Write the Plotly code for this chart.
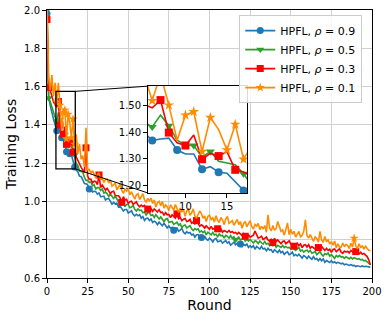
import plotly.graph_objects as go

# training loss per round
rounds = list(range(200))

loss_rho09 = [
    1.98, 1.55, 1.50, 1.46, 1.43, 1.40, 1.369, 1.375, 1.378, 1.333,
    1.318, 1.318, 1.260, 1.270, 1.249, 1.245, 1.214, 1.180, 1.165, 1.154,
    1.132, 1.130, 1.113, 1.093, 1.092, 1.087, 1.065, 1.066, 1.049, 1.053,
    1.051, 1.038, 1.044, 1.025, 1.026, 1.028, 1.008, 1.014, 1.015, 0.997,
    0.986, 0.995, 0.987, 0.991, 0.971, 0.976, 0.964, 0.950, 0.958, 0.958,
    0.939, 0.946, 0.951, 0.933, 0.925, 0.933, 0.925, 0.931, 0.913, 0.921,
    0.901, 0.911, 0.913, 0.900, 0.909, 0.890, 0.897, 0.891, 0.878, 0.892,
    0.884, 0.873, 0.886, 0.871, 0.862, 0.872, 0.860, 0.865, 0.850, 0.859,
    0.861, 0.844, 0.849, 0.858, 0.839, 0.831, 0.842, 0.835, 0.838, 0.825,
    0.829, 0.813, 0.826, 0.827, 0.814, 0.812, 0.803, 0.819, 0.804, 0.797,
    0.808, 0.801, 0.788, 0.802, 0.807, 0.789, 0.792, 0.795, 0.782, 0.790,
    0.796, 0.782, 0.789, 0.771, 0.782, 0.787, 0.773, 0.780, 0.787, 0.778,
    0.764, 0.776, 0.770, 0.777, 0.760, 0.768, 0.760, 0.769, 0.750, 0.765,
    0.759, 0.751, 0.765, 0.751, 0.755, 0.742, 0.755, 0.746, 0.748, 0.733,
    0.748, 0.742, 0.733, 0.746, 0.732, 0.739, 0.723, 0.732, 0.737, 0.722,
    0.726, 0.735, 0.716, 0.723, 0.715, 0.724, 0.714, 0.704, 0.717, 0.712,
    0.701, 0.715, 0.705, 0.698, 0.712, 0.698, 0.702, 0.690, 0.701, 0.690,
    0.700, 0.682, 0.691, 0.687, 0.681, 0.690, 0.680, 0.685, 0.677, 0.682,
    0.676, 0.674, 0.677, 0.669, 0.673, 0.671, 0.666, 0.670, 0.665, 0.666,
    0.660, 0.664, 0.662, 0.659, 0.663, 0.659, 0.661, 0.659, 0.660, 0.657,
]

loss_rho05 = [
    2.00, 1.54, 1.52, 1.49, 1.47, 1.44, 1.42, 1.465, 1.425, 1.37,
    1.352, 1.35, 1.306, 1.327, 1.29, 1.283, 1.277, 1.243, 1.198, 1.188,
    1.159, 1.157, 1.154, 1.127, 1.110, 1.110, 1.099, 1.102, 1.082, 1.087,
    1.064, 1.072, 1.072, 1.057, 1.065, 1.044, 1.049, 1.041, 1.026, 1.038,
    1.028, 1.016, 1.027, 1.010, 0.999, 1.007, 0.993, 0.995, 0.973, 0.984,
    0.984, 0.967, 0.970, 0.979, 0.959, 0.950, 0.961, 0.953, 0.955, 0.941,
    0.945, 0.929, 0.941, 0.942, 0.927, 0.930, 0.916, 0.931, 0.916, 0.908,
    0.919, 0.909, 0.895, 0.907, 0.911, 0.891, 0.892, 0.895, 0.880, 0.888,
    0.892, 0.876, 0.883, 0.863, 0.874, 0.877, 0.861, 0.868, 0.873, 0.857,
    0.848, 0.858, 0.852, 0.857, 0.840, 0.846, 0.837, 0.845, 0.825, 0.839,
    0.832, 0.825, 0.838, 0.825, 0.829, 0.816, 0.830, 0.820, 0.823, 0.808,
    0.823, 0.818, 0.808, 0.822, 0.808, 0.815, 0.800, 0.808, 0.814, 0.799,
    0.803, 0.813, 0.793, 0.801, 0.793, 0.802, 0.792, 0.783, 0.795, 0.791,
    0.780, 0.793, 0.784, 0.777, 0.791, 0.777, 0.781, 0.770, 0.780, 0.769,
    0.780, 0.761, 0.771, 0.767, 0.760, 0.770, 0.759, 0.765, 0.758, 0.760,
    0.752, 0.760, 0.754, 0.744, 0.753, 0.759, 0.741, 0.746, 0.735, 0.743,
    0.745, 0.736, 0.745, 0.729, 0.733, 0.739, 0.722, 0.731, 0.738, 0.723,
    0.715, 0.728, 0.723, 0.730, 0.714, 0.722, 0.714, 0.703, 0.718, 0.710,
    0.718, 0.709, 0.711, 0.703, 0.711, 0.706, 0.701, 0.708, 0.700, 0.706,
    0.704, 0.698, 0.701, 0.695, 0.697, 0.690, 0.692, 0.685, 0.680, 0.670,
]

loss_rho03 = [
    1.95, 1.595, 1.58, 1.55, 1.52, 1.505, 1.493, 1.522, 1.399, 1.36,
    1.35, 1.39, 1.298, 1.32, 1.31, 1.327, 1.258, 1.25, 1.23, 1.212,
    1.195, 1.178, 1.165, 1.150, 1.280, 1.132, 1.115, 1.116, 1.097, 1.106,
    1.104, 1.088, 1.138, 1.073, 1.086, 1.069, 1.059, 1.068, 1.057, 1.041,
    1.051, 1.053, 1.031, 1.030, 1.030, 1.018, 0.995, 1.025, 1.007, 1.011,
    0.989, 0.999, 1.001, 0.985, 0.991, 0.998, 0.981, 0.972, 0.981, 0.974,
    0.979, 0.961, 0.960, 0.958, 0.964, 0.948, 0.961, 0.954, 0.945, 0.957,
    0.942, 0.944, 0.929, 0.941, 0.930, 0.932, 0.916, 0.930, 0.923, 0.913,
    0.935, 0.910, 0.916, 0.899, 0.907, 0.911, 0.895, 0.898, 0.906, 0.886,
    0.892, 0.883, 0.900, 0.880, 0.870, 0.878, 0.872, 0.861, 0.873, 0.863,
    0.855, 0.870, 0.855, 0.860, 0.848, 0.857, 0.847, 0.857, 0.839, 0.848,
    0.845, 0.839, 0.848, 0.838, 0.843, 0.835, 0.838, 0.829, 0.838, 0.831,
    0.822, 0.832, 0.818, 0.820, 0.825, 0.813, 0.821, 0.824, 0.845, 0.824,
    0.808, 0.812, 0.818, 0.801, 0.810, 0.814, 0.799, 0.792, 0.804, 0.785,
    0.807, 0.790, 0.799, 0.790, 0.779, 0.791, 0.794, 0.779, 0.787, 0.794,
    0.778, 0.771, 0.766, 0.775, 0.782, 0.769, 0.778, 0.759, 0.771, 0.774,
    0.762, 0.774, 0.756, 0.764, 0.759, 0.751, 0.766, 0.759, 0.751, 0.765,
    0.751, 0.744, 0.755, 0.744, 0.750, 0.734, 0.749, 0.752, 0.737, 0.743,
    0.753, 0.735, 0.729, 0.741, 0.735, 0.740, 0.731, 0.744, 0.736, 0.730,
    0.738, 0.733, 0.726, 0.735, 0.724, 0.728, 0.718, 0.712, 0.695, 0.668,
]

loss_rho01 = [
    2.05, 1.65, 1.58, 1.66, 1.55, 1.62, 1.52, 1.62, 1.503, 1.37,
    1.465, 1.478, 1.327, 1.456, 1.41, 1.333, 1.43, 1.298, 1.35, 1.25,
    1.30, 1.22, 1.24, 1.18, 1.385, 1.165, 1.167, 1.147, 1.161, 1.145,
    1.123, 1.140, 1.149, 1.112, 1.121, 1.099, 1.114, 1.117, 1.096, 1.113,
    1.080, 1.087, 1.096, 1.061, 1.078, 1.090, 1.059, 1.042, 1.065, 1.054,
    1.067, 1.034, 1.050, 1.033, 1.012, 1.034, 1.041, 1.010, 1.026, 1.041,
    1.008, 0.995, 1.016, 1.003, 1.017, 0.989, 1.008, 0.971, 0.994, 1.001,
    0.978, 1.000, 0.965, 0.982, 0.973, 0.952, 0.983, 0.971, 0.954, 0.984,
    0.957, 0.942, 0.966, 0.945, 0.957, 0.922, 0.951, 0.959, 0.928, 0.940,
    0.961, 0.924, 0.912, 0.937, 0.950, 0.937, 0.912, 0.924, 0.895, 0.923,
    0.928, 0.905, 0.915, 0.892, 0.926, 0.901, 0.890, 0.916, 0.903, 0.879,
    0.908, 0.921, 0.885, 0.892, 0.900, 0.875, 0.894, 0.906, 0.879, 0.895,
    0.860, 0.885, 0.895, 0.868, 0.884, 0.899, 0.869, 0.856, 0.880, 0.871,
    0.885, 0.853, 0.870, 0.856, 0.874, 0.839, 0.930, 0.860, 0.846, 0.874,
    0.849, 0.859, 0.895, 0.862, 0.844, 0.851, 0.823, 0.854, 0.888, 0.826,
    0.855, 0.829, 0.844, 0.814, 0.832, 0.843, 0.815, 0.823, 0.844, 0.904,
    0.822, 0.809, 0.827, 0.809, 0.791, 0.815, 0.807, 0.787, 0.843, 0.798,
    0.786, 0.817, 0.789, 0.799, 0.778, 0.790, 0.771, 0.793, 0.758, 0.779,
    0.760, 0.762, 0.783, 0.763, 0.776, 0.770, 0.754, 0.781, 0.762, 0.808,
    0.768, 0.752, 0.779, 0.758, 0.770, 0.751, 0.766, 0.755, 0.745, 0.742,
]

# rounds that carry a marker (main axes / zoomed inset)
marks_main = {
    "0.9": [0, 6, 9, 12, 14, 17, 26, 78, 95, 119],
    "0.5": [0, 1, 6, 8, 11, 13, 17, 116],
    "0.3": [0, 1, 7, 8, 10, 12, 14, 16, 24, 32, 46, 62, 80, 92, 105, 122, 139, 152, 167, 190],
    "0.1": [0, 6, 8, 10, 11, 12, 13, 15, 16, 17, 189],
}
marks_inset = {
    "0.9": [6, 9, 12, 14, 17],
    "0.5": [6, 8, 11, 13, 17],
    "0.3": [7, 8, 10, 12, 14, 16],
    "0.1": [6, 8, 10, 11, 12, 13, 15, 16, 17],
}

series = [
    ("0.9", loss_rho09, "#1f77b4", "circle"),
    ("0.5", loss_rho05, "#2ca02c", "triangle-down"),
    ("0.3", loss_rho03, "#ff0000", "square"),
    ("0.1", loss_rho01, "#ff8c00", "star"),
]

X_RANGE = [0, 200]
Y_RANGE = [0.6, 2.0]
ZOOM_X = [5.5, 17.4]
ZOOM_Y = [1.17, 1.575]
INSET_DOM_X = [0.311, 0.615]
INSET_DOM_Y = [0.317, 0.716]

FONT = "DejaVu Sans"

fig = go.Figure()

for rho, vals, color, symbol in series:
    fig.add_trace(go.Scatter(
        x=rounds, y=vals, mode="lines+markers",
        name=f"HPFL, <i>ρ</i> = {rho}",
        line=dict(color=color, width=1.6),
        marker=dict(symbol=symbol, size=7, color=color, line=dict(width=0)),
        selectedpoints=marks_main[rho],
        unselected=dict(marker=dict(opacity=0)),
        xaxis="x", yaxis="y",
    ))

for rho, vals, color, symbol in series:
    fig.add_trace(go.Scatter(
        x=rounds, y=vals, mode="lines+markers", showlegend=False,
        line=dict(color=color, width=1.6),
        marker=dict(symbol=symbol, size=8, color=color, line=dict(width=0)),
        selectedpoints=marks_inset[rho],
        unselected=dict(marker=dict(opacity=0)),
        xaxis="x2", yaxis="y2",
    ))


def to_paper(x, y):
    px = (x - X_RANGE[0]) / (X_RANGE[1] - X_RANGE[0])
    py = (y - Y_RANGE[0]) / (Y_RANGE[1] - Y_RANGE[0])
    return px, py


# zoom rectangle and connector lines
shapes = [dict(type="rect", xref="x", yref="y",
               x0=ZOOM_X[0], x1=ZOOM_X[1], y0=ZOOM_Y[0], y1=ZOOM_Y[1],
               line=dict(color="black", width=1.3))]
tr = to_paper(ZOOM_X[1], ZOOM_Y[1])
br = to_paper(ZOOM_X[1], ZOOM_Y[0])
shapes.append(dict(type="line", xref="paper", yref="paper",
                   x0=tr[0], y0=tr[1], x1=INSET_DOM_X[0], y1=INSET_DOM_Y[1],
                   line=dict(color="black", width=1)))
shapes.append(dict(type="line", xref="paper", yref="paper",
                   x0=br[0], y0=br[1], x1=INSET_DOM_X[0], y1=INSET_DOM_Y[0],
                   line=dict(color="black", width=1)))

axis_common = dict(showline=True, mirror=True, linecolor="black", linewidth=1,
                   ticks="outside", ticklen=4, tickcolor="black", zeroline=False,
                   automargin=False, tickfont=dict(size=10, color="black"))

fig.update_layout(
    width=388, height=320,
    margin=dict(l=47, r=16, t=10, b=42),
    paper_bgcolor="white", plot_bgcolor="white",
    font=dict(family=FONT, color="black"),
    xaxis=dict(range=X_RANGE, tickvals=list(range(0, 201, 25)),
               showgrid=True, gridcolor="#d0d0d0", gridwidth=1,
               title=dict(text="Round", font=dict(size=14), standoff=4),
               **axis_common),
    yaxis=dict(range=Y_RANGE, tickvals=[0.6, 0.8, 1.0, 1.2, 1.4, 1.6, 1.8, 2.0],
               tickformat=".1f", showgrid=True, gridcolor="#d0d0d0", gridwidth=1,
               title=dict(text="Training Loss", font=dict(size=14), standoff=4),
               **axis_common),
    xaxis2=dict(domain=INSET_DOM_X, anchor="y2", range=ZOOM_X, tickvals=[10, 15],
                showgrid=False, **axis_common),
    yaxis2=dict(domain=INSET_DOM_Y, anchor="x2", range=ZOOM_Y,
                tickvals=[1.2, 1.3, 1.4, 1.5], tickformat=".2f",
                showgrid=False, **axis_common),
    legend=dict(x=0.97, y=0.981, xanchor="right", yanchor="top",
                bgcolor="rgba(255,255,255,0.85)", bordercolor="#cccccc", borderwidth=1,
                font=dict(size=11), tracegroupgap=0, itemwidth=30),
    shapes=shapes,
    showlegend=True,
)

# the page's default body margin would shift the figure by 8px
fig.write_html("out.html", config={"displayModeBar": False},
               post_script="document.body.style.margin = '0';")
